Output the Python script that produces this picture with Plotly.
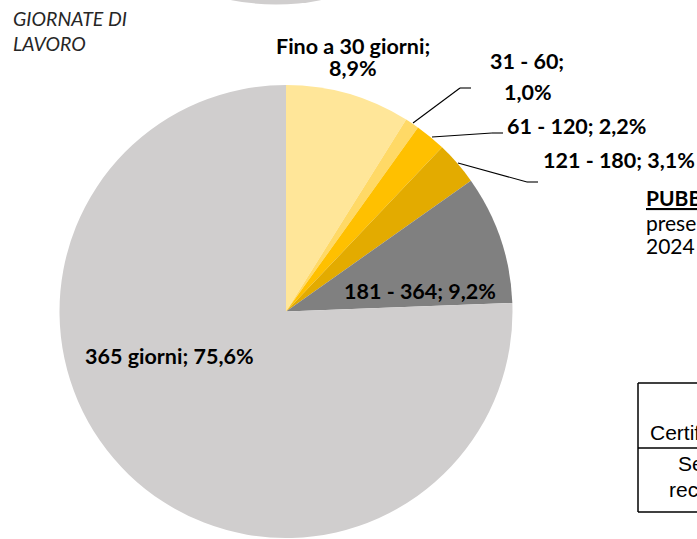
import plotly.graph_objects as go

# ---- data ----
categories = ["Fino a 30 giorni", "31 - 60", "61 - 120", "121 - 180", "181 - 364", "365 giorni"]
shares = [8.9, 1.0, 2.2, 3.1, 9.2, 75.6]
colors = ["#FFE699", "#FFD966", "#FFC000", "#E3AB00", "#808080", "#D0CECE"]
axis_title = ["GIORNATE DI", "LAVORO"]

W, H = 697, 539


def px(x):
    return x / W


def py(y):
    return 1 - y / H


def pct(v):
    return f"{v:.1f}".replace(".", ",") + "%"


fig = go.Figure(
    go.Pie(
        labels=categories,
        values=shares,
        sort=False,
        direction="clockwise",
        rotation=0,
        marker=dict(colors=colors, line=dict(width=0)),
        textinfo="none",
        hoverinfo="skip",
        showlegend=False,
        domain=dict(x=[px(59), px(513)], y=[py(538), py(85)]),
    )
)

LBL = dict(family="Lato, Carlito, sans-serif", size=21.5, color="#000000")

annotations = []


def add_text(text, x, y, font, xanchor="center"):
    annotations.append(
        dict(text=text, x=px(x), y=py(y), xref="paper", yref="paper",
             xanchor=xanchor, yanchor="middle", showarrow=False, font=font)
    )


# slice labels (layout: position of each line)
label_layout = [
    [(353, 46, "name"), (353, 68, "value")],
    [(527, 61, "name"), (528, 92, "value")],
    [(576, 126, "both")],
    [(619, 160, "both")],
    [(420, 291, "both")],
    [(169, 356, "both")],
]
for i, lines in enumerate(label_layout):
    for (x, y, kind) in lines:
        if kind == "name":
            t = f"{categories[i]};"
        elif kind == "value":
            t = pct(shares[i])
        else:
            t = f"{categories[i]}; {pct(shares[i])}"
        add_text(f"<b>{t}</b>", x, y, LBL)

# axis-like title (top left)
TF = dict(family="Lato, Carlito, sans-serif", size=19.5, color="#262626")
add_text(f"<i>{axis_title[0]}</i>", 11, 19, TF, xanchor="left")
add_text(f"<i>{axis_title[1]}</i>", 11, 44, TF, xanchor="left")

# right-side page fragments
RF = dict(family="Lato, Carlito, sans-serif", size=21, color="#000000")
add_text("<b><u>PUBBLICO</u></b>", 644, 198, RF, xanchor="left")
add_text("presenti nel", 644, 222, RF, xanchor="left")
add_text("2024", 644, 245, RF, xanchor="left")

TBF = dict(family="Liberation Sans, Arial, sans-serif", size=21, color="#000000")
add_text("Certificati", 648, 432, TBF, xanchor="left")
add_text("Settore", 676, 463, TBF, xanchor="left")
add_text("recente", 667, 489, TBF, xanchor="left")

shapes = []


def line(x0, y0, x1, y1, w=1.1):
    shapes.append(dict(type="line", xref="paper", yref="paper",
                       x0=px(x0), y0=py(y0), x1=px(x1), y1=py(y1),
                       line=dict(color="#000000", width=w)))


# leader lines
line(413, 123, 460, 88)
line(460, 88, 471, 88)
line(432, 137, 492, 133)
line(492, 133, 503, 133)
line(458, 163, 527, 182)
line(527, 182, 538, 182)

# table fragment
line(638, 383, 638, 512, 1.5)
line(638, 383, 700, 383, 1.5)
line(638, 448, 700, 448, 1.5)
line(638, 512, 700, 512, 1.5)

# partial grey circle at the top (another chart above)
shapes.append(dict(type="circle", xref="paper", yref="paper",
                   x0=px(276 - 227), x1=px(276 + 227),
                   y0=py(4.5), y1=py(4.5 - 454),
                   fillcolor="#D0CECE", line=dict(width=0), layer="below"))

fig.update_layout(
    width=W, height=H,
    margin=dict(l=0, r=0, t=0, b=0),
    paper_bgcolor="#FFFFFF",
    plot_bgcolor="#FFFFFF",
    annotations=annotations,
    shapes=shapes,
)

fig.write_html(
    "out.html",
    config={"displayModeBar": False},
    post_script="document.body.style.margin='0';document.body.style.padding='0';document.body.style.overflow='hidden';",
)
